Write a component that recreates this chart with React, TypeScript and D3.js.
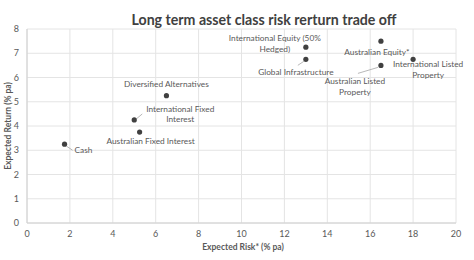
import * as d3 from 'd3'

const assets = [
  'Cash',
  'Australian Fixed Interest',
  'International Fixed Interest',
  'Diversified Alternatives',
  'International Equity (50% Hedged)',
  'Global Infrastructure',
  'Australian Equity*',
  'Australian Listed Property',
  'International Listed Property',
]
const risk = [1.75, 5.25, 5.0, 6.5, 13.0, 13.0, 16.5, 16.5, 18.0]
const ret = [3.25, 3.75, 4.25, 5.25, 7.25, 6.75, 7.5, 6.5, 6.75]

const xTicks = [0, 2, 4, 6, 8, 10, 12, 14, 16, 18, 20]
const yTicks = [0, 1, 2, 3, 4, 5, 6, 7, 8]

// label placement relative to each point (px): dy is the first line's centre
const labelLayout = [
  { lines: ['Cash'], dx: 10, dy: 6, anchor: 'start', leader: [2, 2, 8, 6] },
  { lines: ['Australian Fixed Interest'], dx: 11, dy: 9, anchor: 'middle' },
  { lines: ['International Fixed', 'Interest'], dx: 46, dy: -11, anchor: 'middle', leader: [2, -1, 8, -6] },
  { lines: ['Diversified Alternatives'], dx: 0, dy: -12, anchor: 'middle' },
  { lines: ['International Equity (50%', 'Hedged)'], dx: -31, dy: -9, anchor: 'middle' },
  { lines: ['Global Infrastructure'], dx: -10, dy: 13, anchor: 'middle', leader: [-2, 2, -8, 6] },
  { lines: ['Australian Equity*'], dx: -4, dy: 11, anchor: 'middle' },
  { lines: ['Australian Listed', 'Property'], dx: -26, dy: 16, anchor: 'middle', leader: [-3, 2, -23, 8] },
  { lines: ['International Listed', 'Property'], dx: 15, dy: 5, anchor: 'middle' },
]

const W = 474
const H = 260
const margin = { top: 29, right: 18, bottom: 37, left: 27 }

export default function App() {
  const x = d3.scaleLinear().domain([0, 20]).range([margin.left, W - margin.right])
  const y = d3.scaleLinear().domain([0, 8]).range([H - margin.bottom, margin.top])
  const font = 'Lato, "Open Sans", sans-serif'
  const lineH = 10.5

  return (
    <svg
      width={W}
      height={H}
      style={{ position: 'absolute', left: 0, top: 0, background: '#fff' }}
      fontFamily={font}
    >
      {/* grid */}
      {xTicks.map(t => (
        <line key={'gx' + t} x1={x(t)} x2={x(t)} y1={y(8)} y2={y(0)} stroke="#e4e4e4" strokeWidth={1} />
      ))}
      {yTicks.map(t => (
        <line key={'gy' + t} x1={x(0)} x2={x(20)} y1={y(t)} y2={y(t)} stroke="#e4e4e4" strokeWidth={1} />
      ))}
      <line x1={x(0)} x2={x(20)} y1={y(0)} y2={y(0)} stroke="#d0d0d0" />
      <line x1={x(0)} x2={x(0)} y1={y(0)} y2={y(8)} stroke="#d0d0d0" />

      {/* tick labels */}
      {xTicks.map(t => (
        <text key={'tx' + t} x={x(t)} y={y(0) + 14} textAnchor="middle" fontSize={9} fill="#595959">
          {t}
        </text>
      ))}
      {yTicks.map(t => (
        <text key={'ty' + t} x={x(0) - 8} y={y(t) + 3} textAnchor="end" fontSize={9} fill="#595959">
          {t}
        </text>
      ))}

      {/* title */}
      <text x={264} y={25} textAnchor="middle" fontSize={15} fontWeight="bold" fill="#404040"
        textLength={265} lengthAdjust="spacingAndGlyphs">
        Long term asset class risk rerturn trade off
      </text>

      {/* axis titles */}
      <text x={243} y={250} textAnchor="middle" fontSize={8.5} fontWeight="bold" fill="#595959">
        Expected Risk* (% pa)
      </text>
      <text transform={`translate(11,${(y(0) + y(8)) / 2}) rotate(-90)`} textAnchor="middle" fontSize={8.5}
        fontWeight="bold" fill="#595959">
        Expected Return (% pa)
      </text>

      {/* leaders */}
      {assets.map((a, i) => {
        const l = labelLayout[i]
        if (!l.leader) return null
        const px = x(risk[i])
        const py = y(ret[i])
        return (
          <line key={'ld' + a} x1={px + l.leader[0]} y1={py + l.leader[1]} x2={px + l.leader[2]} y2={py + l.leader[3]}
            stroke="#a6a6a6" strokeWidth={0.8} />
        )
      })}

      {/* points */}
      {assets.map((a, i) => (
        <circle key={'pt' + a} cx={x(risk[i])} cy={y(ret[i])} r={2.6} fill="#404040" />
      ))}

      {/* labels */}
      {assets.map((a, i) => {
        const l = labelLayout[i]
        const px = x(risk[i])
        const py = y(ret[i])
        const top = py + l.dy + 3
        return (
          <text key={'lb' + a} fontSize={8.3} fill="#595959" textAnchor={l.anchor}>
            {l.lines.map((s, j) => (
              <tspan key={j} x={px + l.dx} y={top + j * lineH}>
                {s}
              </tspan>
            ))}
          </text>
        )
      })}
    </svg>
  )
}
